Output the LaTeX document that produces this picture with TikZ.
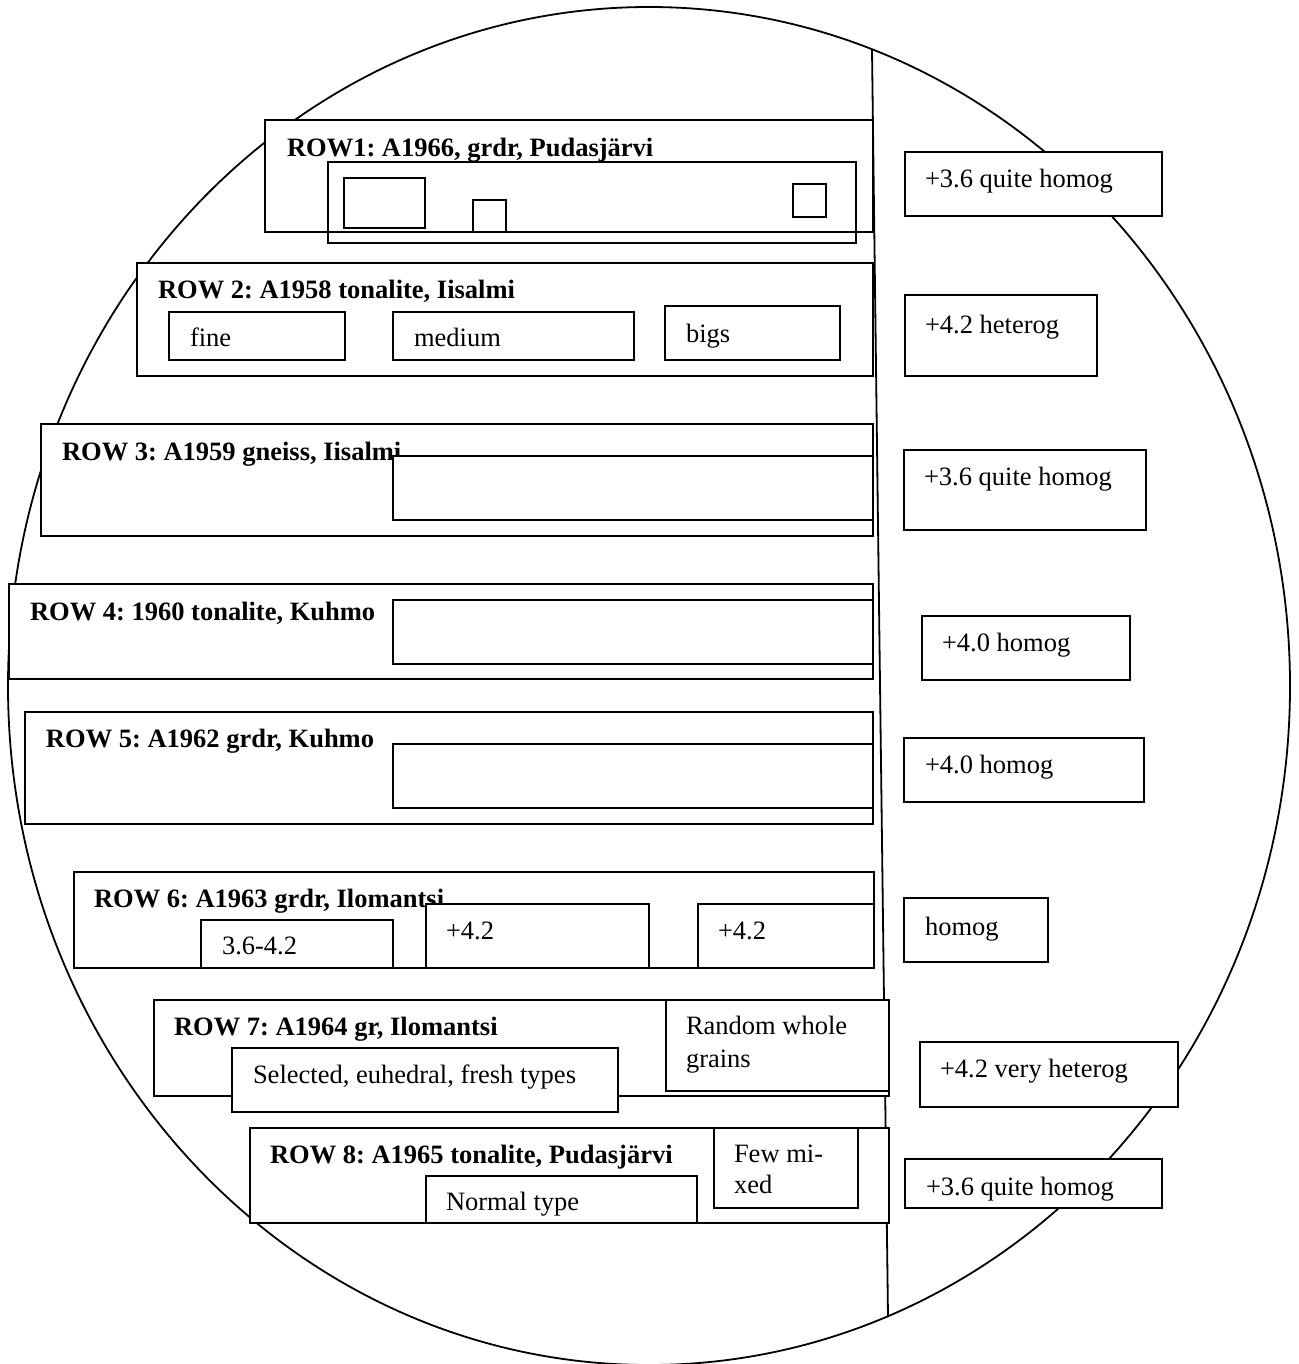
\documentclass[tikz,border=0pt]{standalone}
\usepackage{fontspec}
\setmainfont{Liberation Serif}
\newcommand{\mybox}[6][bx]{\node[#1, anchor=north west, minimum width={(#5-#3)*0.5pt}, minimum height={(#6-#4)*0.5pt}] (#2) at (#3,#4) {};}
\newcommand{\mytext}[5][lbl]{\node[#1] (#2) at (#3,#4) {#5};}
\begin{document}
\frenchspacing
\begin{tikzpicture}[x=0.5pt,y=-0.5pt,
  bx/.style={draw=black, line width=1pt, fill=white, rectangle, inner sep=0pt, outer sep=0pt},
  ob/.style={draw=black, line width=1pt, rectangle, inner sep=0pt, outer sep=0pt},
  lbl/.style={inner sep=0pt, outer sep=0pt, anchor=base west, font=\fontsize{13.25}{16}\selectfont\frenchspacing},
  ttl/.style={lbl, font=\fontsize{13.25}{16}\selectfont\bfseries\frenchspacing},
  ln/.style={draw=black, line width=0.9pt}]
\useasboundingbox[fill=white] (0,0) rectangle (1298,1364);
% outline
\draw[ln] (649,686) ellipse [x radius=641, y radius=679];
\coordinate (vtop) at (872,50);
\coordinate (vbot) at (888,1317);
\draw[ln] (vtop) -- (vbot);
% ROW 1
\mybox{r1}{265}{120}{873}{232}
\mytext[ttl]{r1t}{287}{157}{ROW1: A1966, grdr, Pudasjärvi}
\mybox[ob]{r1i}{328}{162}{856}{243}
\mybox{r1a}{344}{178}{425}{228}
\mybox{r1b}{473}{200}{506}{232}
\mybox{r1c}{793}{184}{826}{217}
\mybox{s1}{905}{152}{1162}{216}
\mytext{s1t}{925}{188}{+3.6 quite homog}
% ROW 2
\mybox{r2}{137}{263}{873}{376}
\mytext[ttl]{r2t}{158}{299}{ROW 2: A1958 tonalite, Iisalmi}
\mybox{r2a}{169}{312}{345}{360}
\mytext{r2at}{190}{346}{fine}
\mybox{r2b}{393}{312}{634}{360}
\mytext{r2bt}{414}{346}{medium}
\mybox{r2c}{665}{306}{840}{360}
\mytext{r2ct}{686}{342}{bigs}
\mybox{s2}{905}{295}{1097}{376}
\mytext{s2t}{925}{333}{+4.2 heterog}
% ROW 3
\mybox{r3}{41}{424}{873}{536}
\mytext[ttl]{r3t}{62}{460}{ROW 3: A1959 gneiss, Iisalmi}
\mybox{r3i}{393}{456}{873}{520}
\mybox{s3}{904}{450}{1146}{530}
\mytext{s3t}{924}{485}{+3.6 quite homog}
% ROW 4
\mybox{r4}{9}{584}{873}{679}
\mytext[ttl]{r4t}{30}{620}{ROW 4: 1960 tonalite, Kuhmo}
\mybox{r4i}{393}{600}{873}{664}
\mybox{s4}{922}{616}{1130}{680}
\mytext{s4t}{942}{651}{+4.0 homog}
% ROW 5
\mybox{r5}{25}{712}{873}{824}
\mytext[ttl]{r5t}{46}{747}{ROW 5: A1962 grdr, Kuhmo}
\mybox{r5i}{393}{744}{873}{808}
\mybox{s5}{904}{738}{1144}{802}
\mytext{s5t}{925}{773}{+4.0 homog}
% ROW 6
\mybox{r6}{74}{872}{874}{968}
\mytext[ttl]{r6t}{94}{907}{ROW 6: A1963 grdr, Ilomantsi}
\mybox{r6a}{201}{920}{393}{968}
\mytext{r6at}{222}{954}{3.6-4.2}
\mybox{r6b}{426}{904}{649}{968}
\mytext{r6bt}{446}{939}{+4.2}
\mybox{r6c}{698}{904}{874}{968}
\mytext{r6ct}{718}{939}{+4.2}
\mybox{s6}{904}{898}{1048}{962}
\mytext{s6t}{925}{935}{homog}
% ROW 7
\mybox{r7}{154}{1000}{889}{1096}
\mytext[ttl]{r7t}{174}{1035}{ROW 7: A1964 gr, Ilomantsi}
\mybox{r7a}{232}{1048}{618}{1112}
\mytext{r7at}{253}{1083}{Selected, euhedral, fresh types}
\mybox{r7b}{666}{1000}{889}{1091}
\mytext{r7bt}{686}{1034}{Random whole}
\mytext{r7bu}{686}{1067}{grains}
\mybox{s7}{920}{1042}{1178}{1107}
\mytext{s7t}{940}{1077}{+4.2 very heterog}
% ROW 8
\mybox{r8}{250}{1128}{889}{1223}
\mytext[ttl]{r8t}{270}{1163}{ROW 8: A1965 tonalite, Pudasjärvi}
\mybox{r8a}{426}{1176}{697}{1223}
\mytext{r8at}{446}{1210}{Normal type}
\mybox{r8b}{714}{1128}{858}{1208}
\mytext{r8bt}{734}{1162}{Few mi-}
\mytext{r8bu}{734}{1193}{xed}
\mybox{s8}{905}{1159}{1162}{1208}
\mytext{s8t}{926}{1195}{+3.6 quite homog}
\end{tikzpicture}
\end{document}
